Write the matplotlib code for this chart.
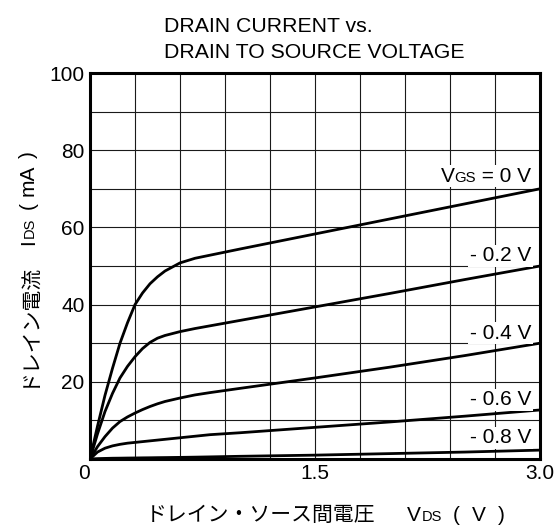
import matplotlib.pyplot as plt
from matplotlib.offsetbox import AnnotationBbox, HPacker, TextArea
from matplotlib.transforms import IdentityTransform

LATIN = "Liberation Sans"
JP = "Noto Sans CJK JP"

# ----------------------------------------------------------------- data
vds = [0, 0.05, 0.1, 0.15, 0.2, 0.25, 0.3, 0.35, 0.4, 0.45, 0.5, 0.6, 0.7,
       0.8, 1.0, 1.5, 2.0, 2.5, 3.0]
ids_0v = [0, 8.5, 16.5, 23.5, 30, 35.3, 40, 43, 45.4, 47.2, 48.7, 50.8, 52,
          52.8, 54.4, 58.3, 62.2, 66.1, 70]
ids_m02 = [0, 6.5, 12.3, 17.0, 21.0, 24.0, 26.5, 28.6, 30.2, 31.3, 32.0, 33.0, 33.8,
           34.5, 35.9, 39.4, 42.9, 46.5, 50]
ids_m04 = [0, 3.2, 5.8, 8.0, 9.7, 10.9, 11.9, 12.8, 13.6, 14.3, 14.9, 15.8, 16.6,
           17.2, 18.3, 21.0, 23.8, 26.8, 30]
ids_m06 = [0, 1.8, 2.8, 3.4, 3.8, 4.1, 4.3, 4.5, 4.7, 4.9, 5.1, 5.5, 5.9,
           6.3, 6.8, 8.2, 9.6, 11.1, 12.7]
ids_m08 = [0, 0.1, 0.15, 0.2, 0.22, 0.25, 0.27, 0.3, 0.32, 0.35, 0.37, 0.42, 0.48,
           0.55, 0.7, 1.0, 1.4, 1.8, 2.3]
curves = [ids_0v, ids_m02, ids_m04, ids_m06, ids_m08]

label_y = [73.3, 52.6, 32.6, 15.3, 5.5]
label_text = ["- 0.2 V", "- 0.4 V", "- 0.6 V", "- 0.8 V"]

x_ticks = [0, 0.3, 0.6, 0.9, 1.2, 1.5, 1.8, 2.1, 2.4, 2.7, 3.0]
x_ticklabels = ["0", "", "", "", "", "1.5", "", "", "", "", "3.0"]
y_ticks = [0, 10, 20, 30, 40, 50, 60, 70, 80, 90, 100]
y_ticklabels = ["", "", "20", "", "40", "", "60", "", "80", "", "100"]

W, H = 559, 532


def rich_label(ax, x, y, pieces, size=15):
    """pieces: (text, scale) packed on one baseline, white box behind."""
    areas = [TextArea(t, textprops=dict(family=LATIN, size=size * s, color="black"))
             for t, s in pieces]
    box = HPacker(children=areas, align="baseline", pad=0, sep=0)
    ab = AnnotationBbox(box, (x, y), xycoords="data", box_alignment=(1, 0.5),
                        frameon=True, pad=0.12,
                        bboxprops=dict(fc="white", ec="none"), zorder=4)
    ax.add_artist(ab)


def text_run(fig, x, y, pieces, rotation=0):
    """Lay text pieces end to end (pixel coords from bottom-left)."""
    r = fig.canvas.get_renderer()
    for text, family, size, gap in pieces:
        t = fig.text(x, y, text, rotation=rotation, rotation_mode="anchor",
                     ha="left", va="baseline", family=family, fontsize=size,
                     transform=IdentityTransform())
        bb = t.get_window_extent(r)
        if rotation:
            y += bb.height + gap
        else:
            x += bb.width + gap


# ----------------------------------------------------------------- plot
fig = plt.figure(figsize=(W / 100, H / 100), dpi=100)
ax = fig.add_axes([90 / W, (H - 459) / H, 450 / W, (459 - 73) / H])

for ys in curves:
    ax.plot(vds, ys, color="black", lw=2.0, solid_capstyle="round", zorder=3)

ax.set_xlim(0, 3.0)
ax.set_ylim(0, 100)
ax.set_xticks(x_ticks)
ax.set_xticklabels(x_ticklabels, family=LATIN, fontsize=15)
ax.get_xticklabels()[0].set_horizontalalignment("right")  # "0" sits left of the corner
ax.set_yticks(y_ticks)
ax.set_yticklabels(y_ticklabels, family=LATIN, fontsize=15)
ax.tick_params(axis="y", length=0, pad=4)
ax.tick_params(axis="x", length=0, pad=3.5)
ax.grid(True, color="#1a1a1a", lw=0.8)
ax.set_axisbelow(True)
for s in ax.spines.values():
    s.set_linewidth(2.2)

rich_label(ax, 2.94, label_y[0], [("V", 1), ("GS", 0.72), (" = 0 V", 1)])
for yy, txt in zip(label_y[1:], label_text):
    rich_label(ax, 2.94, yy, [(txt, 1)])

# title
fig.text(164, H - 32, "DRAIN CURRENT vs.", family=LATIN, fontsize=15.3,
         ha="left", va="baseline", transform=IdentityTransform())
fig.text(164, H - 58, "DRAIN TO SOURCE VOLTAGE", family=LATIN, fontsize=15.3,
         ha="left", va="baseline", transform=IdentityTransform())

# axis labels
text_run(fig, 146, H - 521, [
    ("ドレイン・ソース間電圧", JP, 15, 31),
    ("V", LATIN, 15, 1),
    ("DS", LATIN, 10.5, 11),
    ("(", LATIN, 15, 12),
    ("V", LATIN, 15, 12),
    (")", LATIN, 15, 0),
])
text_run(fig, 34, H - 387, [
    ("ドレイン電流", JP, 15, 17),
    ("I", LATIN, 15, 1),
    ("DS", LATIN, 10.5, 9),
    ("(", LATIN, 15, 6),
    ("mA", LATIN, 15, 6),
    (")", LATIN, 15, 0),
], rotation=90)

fig.savefig("out.png", dpi=100)
